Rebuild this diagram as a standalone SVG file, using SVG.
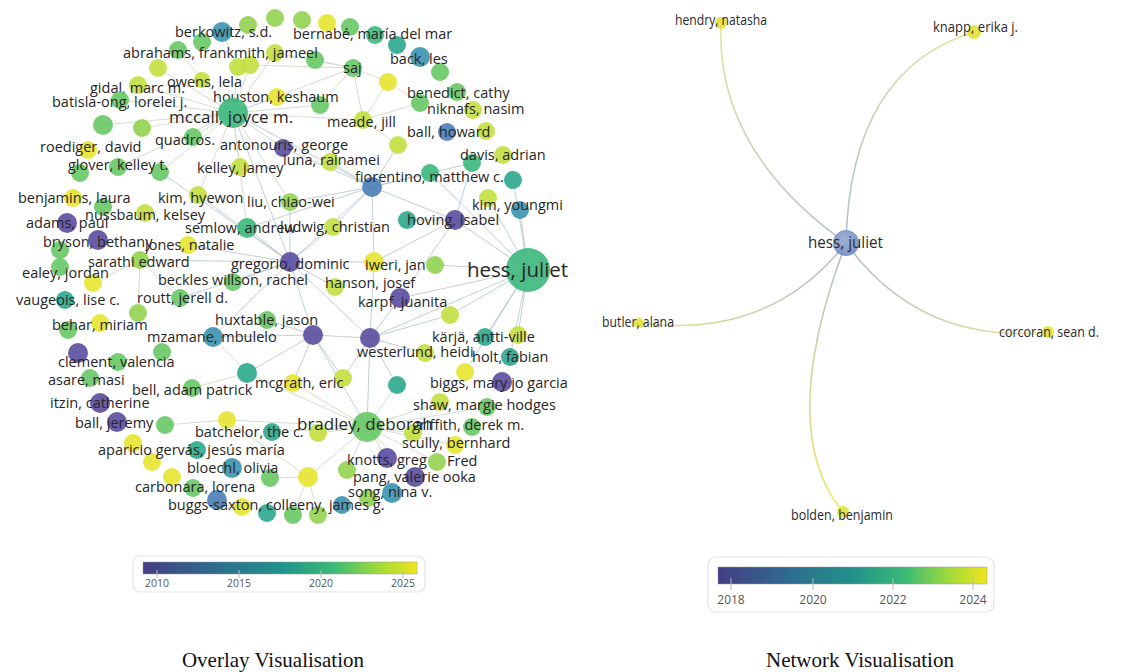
<svg xmlns="http://www.w3.org/2000/svg" width="1129" height="672" viewBox="0 0 1129 672">
<defs>
<style>
.e{stroke:#cbd8c4;stroke-width:1;fill:none;opacity:.85}
.e2{stroke:#b3c3ca;stroke-width:1;fill:none;opacity:.8}
circle{fill-opacity:.9}
.p{fill:#5a4c9f}.b{fill:#4a7db5}.tb{fill:#3c94b0}.t{fill:#2ba88b}.tg{fill:#3cb77c}.g{fill:#67c864}.lg{fill:#92d350}.yg{fill:#c2df3e}.y{fill:#e6e42f}
.l{font-family:'Open Sans','Liberation Sans',sans-serif;font-size:14.5px;fill:#262626}
.lb{font-family:'Open Sans','Liberation Sans',sans-serif;font-size:17px;fill:#262626}
.lh{font-family:'Open Sans','Liberation Sans',sans-serif;font-size:20.5px;fill:#262626}
.r{font-family:'Open Sans','Liberation Sans',sans-serif;font-size:14px;fill:#2a2a2a}
.tk{font-family:'Open Sans','Liberation Sans',sans-serif;font-size:10.5px;fill:#555}
.tk2{font-family:'Open Sans','Liberation Sans',sans-serif;font-size:12px;fill:#555}
.cap{font-family:'Liberation Serif','Times New Roman',serif;font-size:21px;fill:#111}
.leaf{fill:#e2e236;fill-opacity:.9}
</style>
<linearGradient id="vir" x1="0" y1="0" x2="1" y2="0">
<stop offset="0" stop-color="#433e85"/><stop offset=".3" stop-color="#2c728e"/><stop offset=".5" stop-color="#21918c"/><stop offset=".7" stop-color="#3bbb75"/><stop offset=".85" stop-color="#9bd93c"/><stop offset="1" stop-color="#f0e51c"/>
</linearGradient>
<radialGradient id="hessR" cx=".45" cy=".4" r=".6"><stop offset="0" stop-color="#9aaed6"/><stop offset="1" stop-color="#7088bb"/></radialGradient>
<linearGradient id="gH" gradientUnits="userSpaceOnUse" x1="846" y1="243" x2="721" y2="23"><stop offset="0" stop-color="#b4c0cf"/><stop offset="1" stop-color="#dfe6a0"/></linearGradient>
<linearGradient id="gK" gradientUnits="userSpaceOnUse" x1="846" y1="243" x2="974" y2="32"><stop offset="0" stop-color="#b4c0cf"/><stop offset="1" stop-color="#dfe6a0"/></linearGradient>
<linearGradient id="gB" gradientUnits="userSpaceOnUse" x1="846" y1="243" x2="639" y2="323"><stop offset="0" stop-color="#b4c0cf"/><stop offset="1" stop-color="#e6e690"/></linearGradient>
<linearGradient id="gC" gradientUnits="userSpaceOnUse" x1="846" y1="243" x2="1048" y2="332"><stop offset="0" stop-color="#b4c0cf"/><stop offset="1" stop-color="#e6e690"/></linearGradient>
<linearGradient id="gD" gradientUnits="userSpaceOnUse" x1="846" y1="243" x2="843" y2="512"><stop offset="0" stop-color="#b4c0cf"/><stop offset="1" stop-color="#ecea60"/></linearGradient>
</defs>
<rect width="1129" height="672" fill="#fff"/>

<g id="connectors-left">
<path class="e" d="M233,113L202,80M233,113L158,68M233,113L138,85M233,113L120,100M233,113L142,128M233,113L193,137M233,113L160,172M233,113L240,167M233,113L283,148M233,113L277,97M233,113L320,105M233,113L353,68M233,113L238,67M233,113L250,65M233,113L198,195M233,113L290,202M233,113L247,228M233,113L363,120M233,113L118,167M233,113L103,125M233,113L275,53"/>
<path class="e" d="M353,68L275,53M353,68L388,82M353,68L363,120M353,68L315,60M353,68L320,105M353,68L250,65M388,82L420,103M388,82L363,120M363,120L420,103M363,120L398,145M202,80L178,50M238,67L222,32"/>
<path class="e2" d="M233,113L372,187M233,113L290,262M372,187L330,162M372,187L455,220M372,187L430,173M372,187L290,262M372,187L333,227M372,187L290,202M372,187L247,228M372,187L283,148M372,187L374,262M372,187L398,145M372,187L472,163"/>
<path class="e2" d="M528,270L455,220M528,270L430,173M528,270L520,210M528,270L488,198M528,270L400,298M528,270L450,315M528,270L370,338M528,270L485,337M528,270L510,357M528,270L435,265M528,270L513,180M528,270L518,335M528,270L465,372M455,220L407,220M455,220L472,163M455,220L374,262M455,220L400,298"/>
<path class="e2" d="M290,262L188,245M290,262L140,260M290,262L233,282M290,262L313,335M290,262L370,338M290,262L335,287M290,262L247,228M290,262L213,337M290,262L333,227M290,262L290,202M290,262L180,298M290,262L374,262M290,262L198,195M290,262L160,172"/>
<path class="e2" d="M313,335L213,337M313,335L370,338M313,335L367,427M313,335L343,378M313,335L293,383M313,335L247,373M313,335L267,320M370,338L400,298M370,338L450,315M370,338L367,427M370,338L425,353M370,338L397,385M370,338L343,378M370,338L374,262"/>
<path class="e" d="M367,427L397,385M367,427L440,402M367,427L413,433M367,427L318,433M367,427L387,458M367,427L347,470M367,427L308,477M367,427L272,432M367,427L227,420M367,427L293,383M367,427L415,477M367,427L455,445M367,427L437,462M367,427L247,373M367,427L487,407M308,477L318,515M308,477L270,478M308,477L227,420M308,477L293,515M140,260L93,283M140,260L138,313M140,260L180,298M247,373L192,388M247,373L213,337M227,420L165,425"/>
</g>

<g id="n-a2"><circle class="g" cx="202" cy="42" r="9"/></g>
<g id="n-a3"><circle class="lg" cx="248" cy="25" r="9"/></g>
<g id="n-a4"><circle class="g" cx="178" cy="50" r="9"/></g>
<g id="n-a7"><circle class="yg" cx="238" cy="67" r="9"/></g>
<g id="n-a11"><circle class="g" cx="103" cy="125" r="10"/></g>
<g id="n-a12"><circle class="lg" cx="142" cy="128" r="9"/></g>
<g id="n-a14"><circle class="lg" cx="275" cy="18" r="9"/></g>
<g id="n-a15"><circle class="lg" cx="302" cy="20" r="9"/></g>
<g id="n-a16"><circle class="y" cx="327" cy="23" r="9"/></g>
<g id="n-a18"><circle class="tg" cx="375" cy="35" r="9"/></g>
<g id="n-a19"><circle class="t" cx="397" cy="45" r="9"/></g>
<g id="n-a21"><circle class="g" cx="440" cy="72" r="9"/></g>
<g id="n-a22"><circle class="yg" cx="250" cy="65" r="9"/></g>
<g id="n-a23"><circle class="yg" cx="275" cy="53" r="9"/></g>
<g id="n-a24"><circle class="g" cx="315" cy="60" r="9"/></g>
<g id="n-a26"><circle class="y" cx="388" cy="82" r="9"/></g>
<g id="n-a28"><circle class="g" cx="320" cy="105" r="9"/></g>
<g id="n-a31"><circle class="g" cx="457" cy="92" r="9"/></g>
<g id="n-a34"><circle class="yg" cx="486" cy="131" r="9"/></g>
<g id="n-a37"><circle class="g" cx="80" cy="173" r="9"/></g>
<g id="n-a38"><circle class="g" cx="160" cy="172" r="9"/></g>
<g id="n-a41"><circle class="g" cx="103" cy="207" r="9"/></g>
<g id="n-a46"><circle class="g" cx="60" cy="250" r="9"/></g>
<g id="n-a50"><circle class="g" cx="60" cy="267" r="9"/></g>
<g id="n-a53"><circle class="yg" cx="398" cy="145" r="9"/></g>
<g id="n-a56"><circle class="tg" cx="430" cy="173" r="9"/></g>
<g id="n-a58"><circle class="yg" cx="503" cy="155" r="9"/></g>
<g id="n-a59"><circle class="t" cx="513" cy="180" r="9"/></g>
<g id="n-a61"><circle class="tb" cx="520" cy="210" r="9"/></g>
<g id="n-a64"><circle class="t" cx="407" cy="220" r="9"/></g>
<g id="n-a68"><circle class="lg" cx="435" cy="265" r="9"/></g>
<g id="n-a74"><circle class="lg" cx="138" cy="313" r="9"/></g>
<g id="n-a76"><circle class="g" cx="68" cy="330" r="9"/></g>
<g id="n-a79"><circle class="g" cx="162" cy="352" r="9"/></g>
<g id="n-a81"><circle class="g" cx="118" cy="362" r="9"/></g>
<g id="n-a83"><circle class="t" cx="247" cy="373" r="10"/></g>
<g id="n-a86"><circle class="g" cx="267" cy="320" r="9"/></g>
<g id="n-a90"><circle class="yg" cx="450" cy="315" r="9"/></g>
<g id="n-a91"><circle class="yg" cx="425" cy="353" r="9"/></g>
<g id="n-a93"><circle class="yg" cx="518" cy="335" r="9"/></g>
<g id="n-a95"><circle class="y" cx="465" cy="372" r="9"/></g>
<g id="n-a98"><circle class="y" cx="293" cy="383" r="9"/></g>
<g id="n-a99"><circle class="t" cx="397" cy="385" r="9"/></g>
<g id="n-a102"><circle class="g" cx="165" cy="425" r="9"/></g>
<g id="n-a103"><circle class="y" cx="227" cy="420" r="9"/></g>
<g id="n-a104"><circle class="y" cx="133" cy="443" r="9"/></g>
<g id="n-a105"><circle class="y" cx="152" cy="462" r="9"/></g>
<g id="n-a107"><circle class="y" cx="172" cy="477" r="9"/></g>
<g id="n-a110"><circle class="b" cx="217" cy="500" r="10"/></g>
<g id="n-a111"><circle class="y" cx="242" cy="507" r="9"/></g>
<g id="n-a113"><circle class="yg" cx="318" cy="433" r="9"/></g>
<g id="n-a116"><circle class="g" cx="487" cy="407" r="9"/></g>
<g id="n-a118"><circle class="g" cx="472" cy="427" r="9"/></g>
<g id="n-a124"><circle class="lg" cx="368" cy="498" r="9"/></g>
<g id="n-a125"><circle class="lg" cx="347" cy="470" r="9"/></g>
<g id="n-a126"><circle class="y" cx="308" cy="477" r="10"/></g>
<g id="n-a127"><circle class="g" cx="270" cy="478" r="9"/></g>
<g id="n-a128"><circle class="t" cx="267" cy="513" r="9"/></g>
<g id="n-a129"><circle class="g" cx="293" cy="515" r="9"/></g>
<g id="n-a130"><circle class="lg" cx="318" cy="515" r="9"/></g>

<g id="n-berkowitz"><circle class="tb" cx="222" cy="32" r="10"/><text class="l" x="175" y="37">berkowitz, s.d.</text></g>
<g id="n-bernabe"><circle class="g" cx="350" cy="27" r="9"/><text class="l" x="293" y="39">bernabé, maría del mar</text></g>
<g id="n-abrahams"><circle class="yg" cx="158" cy="68" r="9"/><text class="l" x="123" y="58">abrahams, frankmith, jameel</text></g>
<g id="n-back"><circle class="tb" cx="420" cy="57" r="10"/><text class="l" x="390" y="64">back, les</text></g>
<g id="n-saj"><circle class="g" cx="353" cy="68" r="9"/><text class="l" x="343" y="73">saj</text></g>
<g id="n-gidal"><circle class="yg" cx="138" cy="85" r="9"/><text class="l" x="90" y="93">gidal, marc m.</text></g>
<g id="n-owens"><circle class="yg" cx="202" cy="80" r="8"/><text class="l" x="167" y="87">owens, lela</text></g>
<g id="n-benedict"><circle class="g" cx="420" cy="103" r="9"/><text class="l" x="407" y="98">benedict, cathy</text></g>
<g id="n-houston"><circle class="y" cx="277" cy="97" r="9"/><text class="l" x="213" y="102">houston, keshaum</text></g>
<g id="n-batisla"><circle class="g" cx="120" cy="100" r="9"/><text class="l" x="52" y="107">batisla-ong, lorelei j.</text></g>
<g id="n-mccall"><circle class="tg" cx="233" cy="113" r="15"/><text class="lb" x="169" y="123">mccall, joyce m.</text></g>
<g id="n-niknafs"><circle class="yg" cx="473" cy="110" r="9"/><text class="l" x="427" y="114">niknafs, nasim</text></g>
<g id="n-meade"><circle class="yg" cx="363" cy="120" r="9"/><text class="l" x="327" y="127">meade, jill</text></g>
<g id="n-ballh"><circle class="b" cx="447" cy="132" r="9"/><text class="l" x="407" y="137">ball, howard</text></g>
<g id="n-quadros"><circle class="g" cx="193" cy="137" r="9"/><text class="l" x="155" y="145">quadros.</text></g>
<g id="n-antonouris"><circle class="p" cx="283" cy="148" r="9"/><text class="l" x="220" y="150">antonouris, george</text></g>
<g id="n-roediger"><circle class="y" cx="88" cy="150" r="9"/><text class="l" x="40" y="152">roediger, david</text></g>
<g id="n-glover"><circle class="g" cx="118" cy="167" r="9"/><text class="l" x="68" y="170">glover, kelley t.</text></g>
<g id="n-kelley"><circle class="yg" cx="240" cy="167" r="9"/><text class="l" x="197" y="173">kelley, jamey</text></g>
<g id="n-luna"><circle class="yg" cx="330" cy="162" r="9"/><text class="l" x="283" y="165">luna, rainamei</text></g>
<g id="n-davis"><circle class="tg" cx="472" cy="163" r="9"/><text class="l" x="460" y="160">davis, adrian</text></g>
<g id="n-fiorentino"><circle class="b" cx="372" cy="187" r="10"/><text class="l" x="355" y="182">fiorentino, matthew c.</text></g>
<g id="n-benjamins"><circle class="y" cx="73" cy="198" r="9"/><text class="l" x="18" y="203">benjamins, laura</text></g>
<g id="n-kimh"><circle class="yg" cx="198" cy="195" r="9"/><text class="l" x="158" y="203">kim, hyewon</text></g>
<g id="n-liu"><circle class="lg" cx="290" cy="202" r="9"/><text class="l" x="247" y="207">liu, chiao-wei</text></g>
<g id="n-kimy"><circle class="yg" cx="488" cy="198" r="9"/><text class="l" x="472" y="210">kim, youngmi</text></g>
<g id="n-nussbaum"><circle class="yg" cx="145" cy="213" r="9"/><text class="l" x="85" y="220">nussbaum, kelsey</text></g>
<g id="n-adams"><circle class="p" cx="67" cy="223" r="10"/><text class="l" x="26" y="228">adams, paul</text></g>
<g id="n-semlow"><circle class="tg" cx="247" cy="228" r="10"/><text class="l" x="185" y="233">semlow, andrew</text></g>
<g id="n-ludwig"><circle class="yg" cx="333" cy="227" r="9"/><text class="l" x="280" y="232">ludwig, christian</text></g>
<g id="n-hoving"><circle class="p" cx="455" cy="220" r="10"/><text class="l" x="407" y="225">hoving, isabel</text></g>
<g id="n-bryson"><circle class="p" cx="98" cy="240" r="10"/><text class="l" x="43" y="247">bryson, bethany</text></g>
<g id="n-jones"><circle class="y" cx="188" cy="245" r="9"/><text class="l" x="145" y="250">jones, natalie</text></g>
<g id="n-sarathi"><circle class="lg" cx="140" cy="260" r="9"/><text class="l" x="88" y="267">sarathi edward</text></g>
<g id="n-gregorio"><circle class="p" cx="290" cy="262" r="10"/><text class="l" x="231" y="269">gregorio, dominic</text></g>
<g id="n-iweri"><circle class="y" cx="374" cy="262" r="10"/><text class="l" x="365" y="270">iweri, jan</text></g>
<g id="n-hess"><circle class="tg" cx="528" cy="270" r="22"/><text class="lh" x="467" y="277">hess, juliet</text></g>
<g id="n-ealey"><circle class="y" cx="93" cy="283" r="9"/><text class="l" x="22" y="278">ealey, jordan</text></g>
<g id="n-beckles"><circle class="g" cx="233" cy="282" r="9"/><text class="l" x="158" y="285">beckles willson, rachel</text></g>
<g id="n-hanson"><circle class="yg" cx="335" cy="287" r="9"/><text class="l" x="325" y="288">hanson, josef</text></g>
<g id="n-vaugeois"><circle class="t" cx="65" cy="300" r="9"/><text class="l" x="16" y="305">vaugeois, lise c.</text></g>
<g id="n-routt"><circle class="g" cx="180" cy="298" r="9"/><text class="l" x="137" y="303">routt, jerell d.</text></g>
<g id="n-karpf"><circle class="p" cx="400" cy="298" r="10"/><text class="l" x="358" y="307">karpf, juanita</text></g>
<g id="n-huxtable"><circle class="p" cx="313" cy="335" r="10"/><text class="l" x="215" y="325">huxtable, jason</text></g>
<g id="n-behar"><circle class="y" cx="100" cy="323" r="9"/><text class="l" x="52" y="330">behar, miriam</text></g>
<g id="n-mzamane"><circle class="tb" cx="213" cy="337" r="10"/><text class="l" x="147" y="342">mzamane, mbulelo</text></g>
<g id="n-karja"><circle class="t" cx="485" cy="337" r="9"/><text class="l" x="432" y="342">kärjä, antti-ville</text></g>
<g id="n-westerlund"><circle class="p" cx="370" cy="338" r="10"/><text class="l" x="357" y="357">westerlund, heidi</text></g>
<g id="n-holt"><circle class="t" cx="510" cy="357" r="9"/><text class="l" x="472" y="362">holt, fabian</text></g>
<g id="n-clement"><circle class="p" cx="78" cy="353" r="10"/><text class="l" x="58" y="367">clement, valencia</text></g>
<g id="n-asare"><circle class="g" cx="90" cy="378" r="9"/><text class="l" x="48" y="385">asare, masi</text></g>
<g id="n-bell"><circle class="g" cx="192" cy="388" r="9"/><text class="l" x="132" y="395">bell, adam patrick</text></g>
<g id="n-mcgrath"><circle class="yg" cx="343" cy="378" r="9"/><text class="l" x="255" y="388">mcgrath, eric</text></g>
<g id="n-biggs"><circle class="p" cx="502" cy="382" r="10"/><text class="l" x="430" y="388">biggs, mary jo garcia</text></g>
<g id="n-itzin"><circle class="p" cx="100" cy="403" r="10"/><text class="l" x="50" y="408">itzin, catherine</text></g>
<g id="n-shaw"><circle class="yg" cx="440" cy="402" r="9"/><text class="l" x="413" y="410">shaw, margie hodges</text></g>
<g id="n-ballj"><circle class="p" cx="117" cy="422" r="10"/><text class="l" x="75" y="428">ball, jeremy</text></g>
<g id="n-batchelor"><circle class="t" cx="272" cy="432" r="9"/><text class="l" x="195" y="437">batchelor, the c.</text></g>
<g id="n-griffith"><circle class="yg" cx="413" cy="433" r="9"/><text class="l" x="412" y="430">griffith, derek m.</text></g>
<g id="n-bradley"><circle class="g" cx="367" cy="427" r="15"/><text class="lb" x="297" y="430">bradley, deborah</text></g>
<g id="n-aparicio"><circle class="t" cx="197" cy="450" r="9"/><text class="l" x="98" y="455">aparicio gervás, jesús maría</text></g>
<g id="n-scully"><circle class="y" cx="455" cy="445" r="9"/><text class="l" x="402" y="448">scully, bernhard</text></g>
<g id="n-bloechl"><circle class="tb" cx="232" cy="468" r="10"/><text class="l" x="187" y="473">bloechl, olivia</text></g>
<g id="n-knotts"><circle class="p" cx="387" cy="458" r="10"/><text class="l" x="347" y="465">knotts, greg</text></g>
<g id="n-fred"><circle class="lg" cx="437" cy="462" r="9"/><text class="l" x="447" y="466">Fred</text></g>
<g id="n-pang"><circle class="p" cx="415" cy="477" r="10"/><text class="l" x="353" y="482">pang, valerie ooka</text></g>
<g id="n-carbonara"><circle class="g" cx="193" cy="488" r="9"/><text class="l" x="135" y="492">carbonara, lorena</text></g>
<g id="n-song"><circle class="tb" cx="392" cy="493" r="10"/><text class="l" x="348" y="497">song, nina v.</text></g>
<g id="n-buggs"><circle class="tb" cx="342" cy="505" r="9"/><text class="l" x="168" y="510">buggs-saxton, colleeny, james g.</text></g>

<g id="legend-left">
<rect x="133" y="556" width="292" height="36" rx="7" fill="#fff" stroke="#e3e3e3" stroke-width="1.2"/>
<rect x="143" y="562" width="274" height="12" fill="url(#vir)" stroke="#999" stroke-width=".5"/>
<path d="M157,570V578M239,570V578M321,570V578M403,570V578" stroke="#bbb" stroke-width="1"/>
<text class="tk" x="157" y="587" text-anchor="middle">2010</text>
<text class="tk" x="239" y="587" text-anchor="middle">2015</text>
<text class="tk" x="321" y="587" text-anchor="middle">2020</text>
<text class="tk" x="403" y="587" text-anchor="middle">2025</text>
</g>

<g id="connectors-right" fill="none" stroke-width="1.6">
<path d="M846,243Q715,150 721,23" stroke="url(#gH)"/>
<path d="M846,243Q850,70 974,32" stroke="url(#gK)"/>
<path d="M846,243Q770,340 639,323" stroke="url(#gB)"/>
<path d="M846,243Q920,345 1048,332" stroke="url(#gC)"/>
<path d="M846,243Q775,430 843,512" stroke="url(#gD)"/>
</g>
<g id="r-hess"><circle cx="846" cy="243" r="13" fill="url(#hessR)"/><text class="r" x="808" y="248" textLength="75" lengthAdjust="spacingAndGlyphs" style="font-size:17px">hess, juliet</text></g>
<g id="r-hendry"><circle class="leaf" cx="721" cy="23" r="6"/><text class="r" x="675" y="25" textLength="92" lengthAdjust="spacingAndGlyphs">hendry, natasha</text></g>
<g id="r-knapp"><circle class="leaf" cx="974" cy="32" r="7"/><text class="r" x="933" y="32" textLength="85" lengthAdjust="spacingAndGlyphs">knapp, erika j.</text></g>
<g id="r-butler"><circle class="leaf" cx="639" cy="323" r="5"/><text class="r" x="602" y="327" textLength="72" lengthAdjust="spacingAndGlyphs">butler, alana</text></g>
<g id="r-corcoran"><circle class="leaf" cx="1048" cy="332" r="6"/><text class="r" x="999" y="337" textLength="100" lengthAdjust="spacingAndGlyphs">corcoran, sean d.</text></g>
<g id="r-bolden"><circle class="leaf" cx="843" cy="512" r="6"/><text class="r" x="791" y="520" textLength="102" lengthAdjust="spacingAndGlyphs">bolden, benjamin</text></g>

<g id="legend-right">
<rect x="708" y="557" width="286" height="55" rx="8" fill="#fff" stroke="#e3e3e3" stroke-width="1.2"/>
<rect x="718" y="567" width="269" height="17" fill="url(#vir)" stroke="#999" stroke-width=".5"/>
<path d="M731,578V590M813,578V590M893,578V590M973,578V590" stroke="#bbb" stroke-width="1"/>
<text class="tk2" x="731" y="604" text-anchor="middle">2018</text>
<text class="tk2" x="813" y="604" text-anchor="middle">2020</text>
<text class="tk2" x="893" y="604" text-anchor="middle">2022</text>
<text class="tk2" x="973" y="604" text-anchor="middle">2024</text>
</g>

<text class="cap" x="273" y="667" text-anchor="middle">Overlay Visualisation</text>
<text class="cap" x="860" y="667" text-anchor="middle">Network Visualisation</text>
</svg>
